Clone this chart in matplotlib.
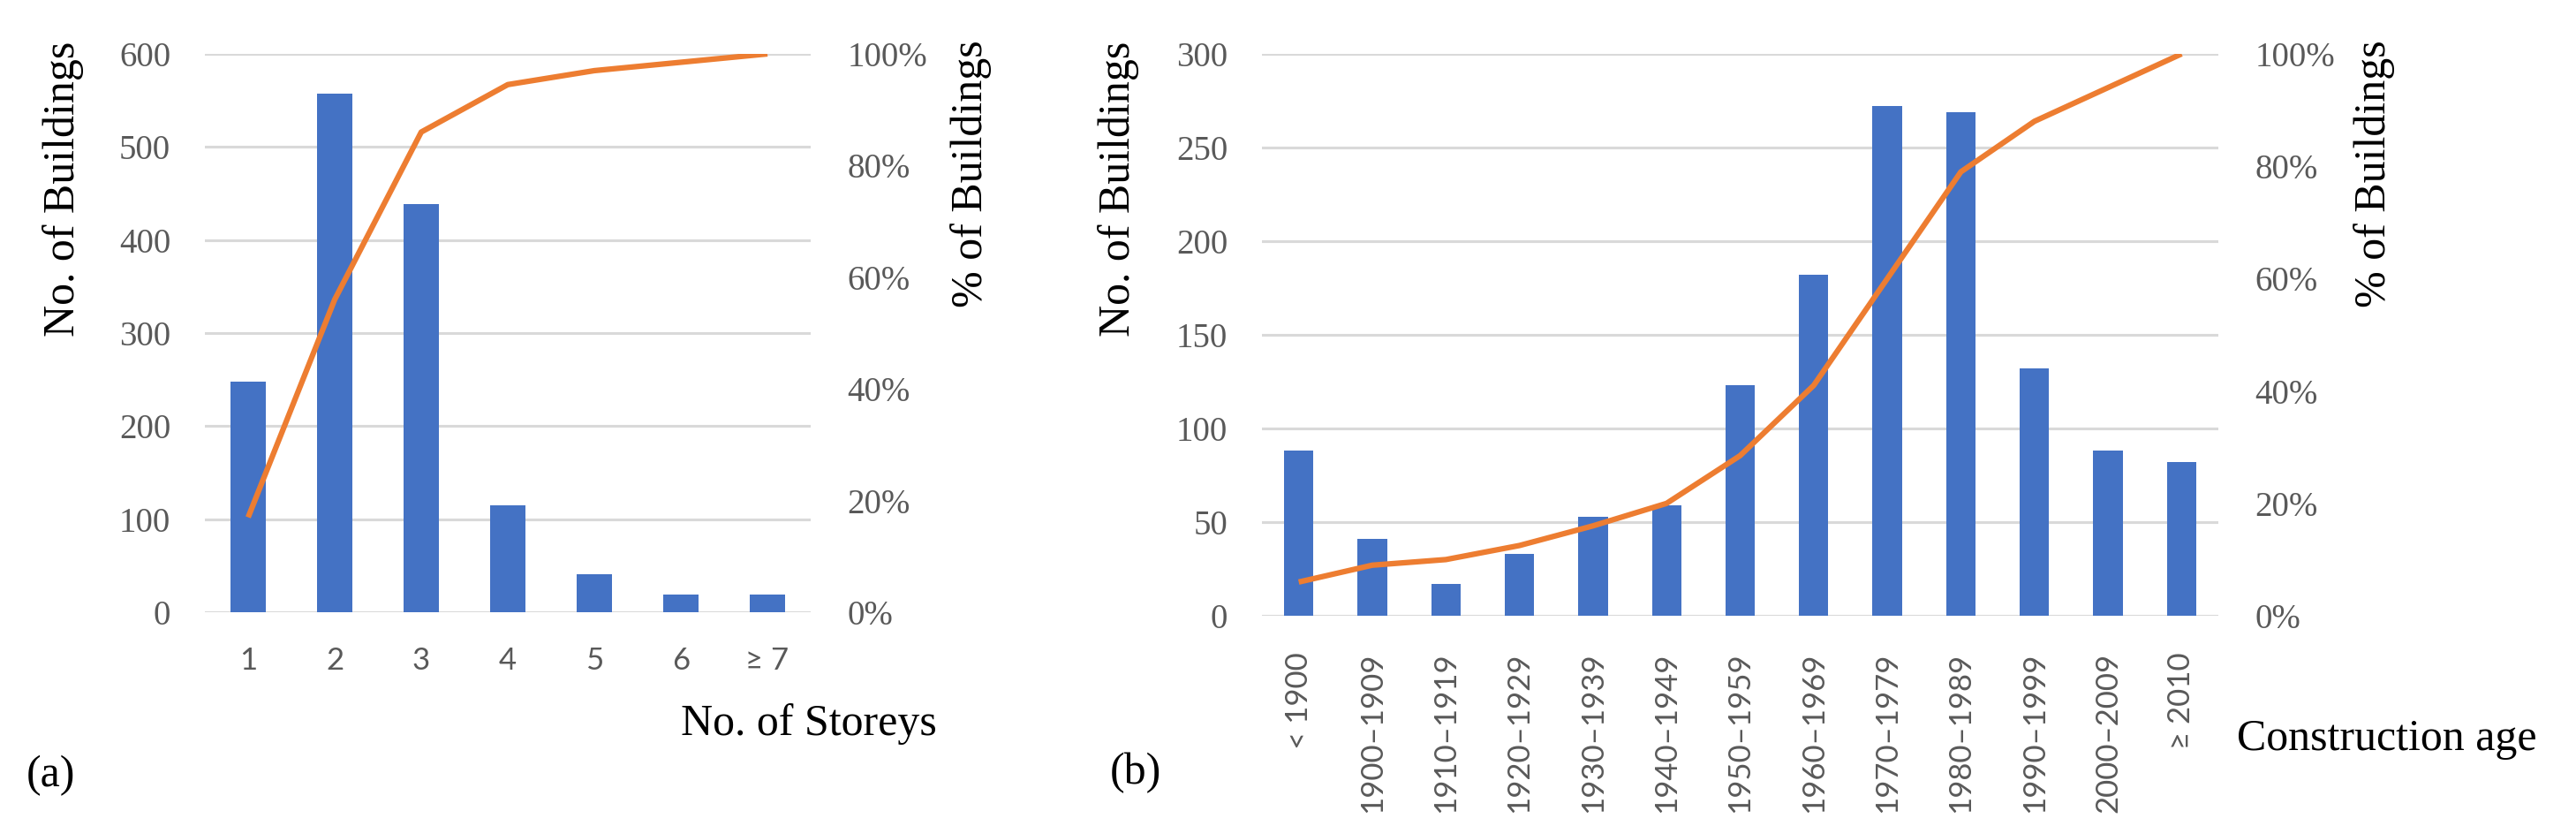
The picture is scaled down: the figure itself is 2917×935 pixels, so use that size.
import matplotlib
matplotlib.use("Agg")
import matplotlib.pyplot as plt
from matplotlib.ticker import PercentFormatter

# data
storeys = ["1", "2", "3", "4", "5", "6", "\u2265 7"]
storey_counts = [248, 557, 439, 115, 41, 19, 19]
storey_cum_pct = [17, 56, 86, 94.5, 97, 98.5, 100]

ages = ["< 1900", "1900\u20131909", "1910\u20131919", "1920\u20131929", "1930\u20131939",
        "1940\u20131949", "1950\u20131959", "1960\u20131969", "1970\u20131979",
        "1980\u20131989", "1990\u20131999", "2000\u20132009", "\u2265 2010"]
age_counts = [88, 41, 17, 33, 53, 59, 123, 182, 272, 269, 132, 88, 82]
age_cum_pct = [6, 9, 10, 12.5, 16, 20, 28.5, 41, 60, 79, 88, 94, 100]

blue = "#4472C4"
orange = "#ED7D31"
grid = "#D9D9D9"
tick_col = "#595959"
serif = "Liberation Serif"
sans = "Lato"

W, H = 2917, 935
fig = plt.figure(figsize=(W / 100, H / 100), dpi=100)


def panel(rect, cats, counts, pct, ymax, ystep, rot):
    ax = fig.add_axes(rect)
    x = range(len(cats))
    ax.bar(x, counts, width=0.4, color=blue, zorder=2)
    ax.set_xlim(-0.5, len(cats) - 0.5)
    ax.set_ylim(0, ymax)
    ax.set_yticks(range(0, ymax + 1, ystep))
    ax.grid(axis="y", color=grid, lw=2.2, zorder=0)
    ax.set_axisbelow(True)
    for s in ax.spines.values():
        s.set_visible(False)
    ax.tick_params(length=0)
    ax.set_xticks(list(x))
    ax.set_xticklabels(cats, rotation=rot, fontfamily=sans, fontsize=25, color=tick_col)
    ax.tick_params(axis="x", pad=30 if rot else 28)
    for lab in ax.get_yticklabels():
        lab.set_fontfamily(serif)
        lab.set_fontsize(28)
        lab.set_color(tick_col)
    ax.tick_params(axis="y", pad=28)

    ax2 = ax.twinx()
    ax2.plot(list(x), pct, color=orange, lw=4.5, zorder=3, solid_capstyle="butt")
    ax2.set_ylim(0, 100)
    ax2.set_yticks(range(0, 101, 20))
    ax2.yaxis.set_major_formatter(PercentFormatter(decimals=0))
    for s in ax2.spines.values():
        s.set_visible(False)
    ax2.tick_params(length=0, pad=30)
    for lab in ax2.get_yticklabels():
        lab.set_fontfamily(serif)
        lab.set_fontsize(28)
        lab.set_color(tick_col)
    return ax


# panel (a)
panel([232 / W, 1 - 693 / H, 686 / W, 632 / H], storeys, storey_counts, storey_cum_pct, 600, 100, 0)
fig.text(72 / W, 1 - 47 / H, "No. of Buildings", rotation=90, ha="center", va="top",
         fontfamily=serif, fontsize=36)
fig.text(1100 / W, 1 - 45 / H, "% of Buildings", rotation=90, ha="center", va="top",
         fontfamily=serif, fontsize=36)
fig.text(771 / W, 1 - 820 / H, "No. of Storeys", ha="left", va="center",
         fontfamily=serif, fontsize=36)
fig.text(30 / W, 1 - 878 / H, "(a)", ha="left", va="center", fontfamily=serif, fontsize=36)

# panel (b)
panel([1429 / W, 1 - 697 / H, 1083 / W, 636 / H], ages, age_counts, age_cum_pct, 300, 50, 90)
fig.text(1267 / W, 1 - 47 / H, "No. of Buildings", rotation=90, ha="center", va="top",
         fontfamily=serif, fontsize=36)
fig.text(2689 / W, 1 - 45 / H, "% of Buildings", rotation=90, ha="center", va="top",
         fontfamily=serif, fontsize=36)
fig.text(2533 / W, 1 - 837 / H, "Construction age", ha="left", va="center",
         fontfamily=serif, fontsize=36)
fig.text(1257 / W, 1 - 875 / H, "(b)", ha="left", va="center", fontfamily=serif, fontsize=36)

fig.savefig("out.png", dpi=100, facecolor="white")
